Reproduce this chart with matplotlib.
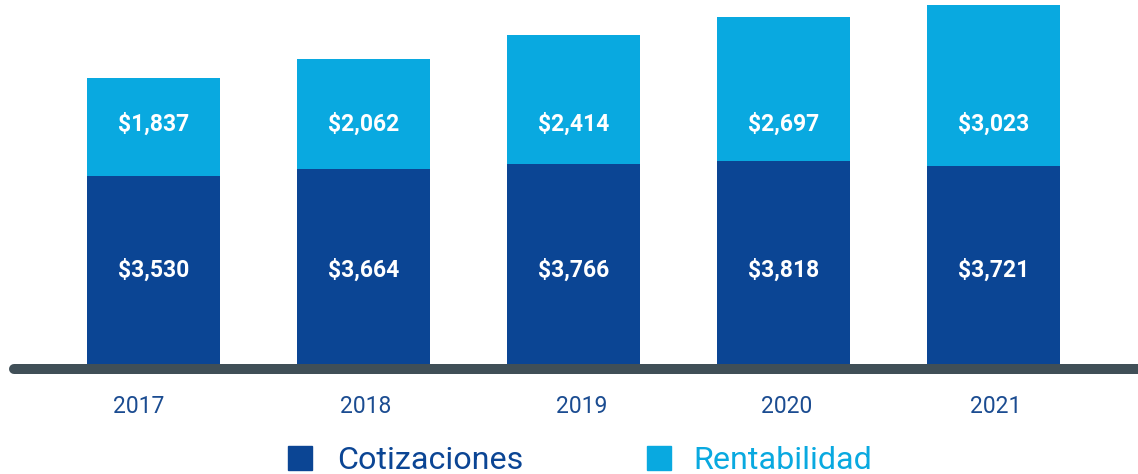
import matplotlib.pyplot as plt
from matplotlib.patches import Rectangle
from matplotlib.transforms import offset_copy

# data
years = ["2017", "2018", "2019", "2020", "2021"]
cotizaciones = [3530, 3664, 3766, 3818, 3721]
rentabilidad = [1837, 2062, 2414, 2697, 3023]
series_names = ["Cotizaciones", "Rentabilidad"]

DARK = "#0b4594"
LIGHT = "#09a9e0"
AXIS = "#404f57"
TEXT_DARK = "#1b4c91"

# the year labels in the original are not exactly centred under the bars (px)
year_nudge = [-14.5, 2.5, 8.5, 3.5, 2]

W, H = 1138, 474
fig = plt.figure(figsize=(W / 100, H / 100), dpi=100)
fig.patch.set_facecolor("white")

# axes: full width, bottom at bar baseline (y=364 px from top)
base_px = 364
ax = fig.add_axes([0, (H - base_px) / H, 1, base_px / H])
ax.set_xlim(-153.5 / 210, (W - 153.5) / 210)
ax.set_ylim(0, base_px / 0.0532)
ax.axis("off")

x = list(range(len(years)))
ax.bar(x, cotizaciones, width=0.633, color=DARK)
ax.bar(x, rentabilidad, width=0.633, bottom=cotizaciones, color=LIGHT)

xt = ax.get_xaxis_transform()
# value labels sit at fixed heights, like the original infographic
for i in x:
    ax.text(i, (base_px - 270) / base_px, f"${cotizaciones[i]:,}", transform=xt,
            ha="center", va="center", color="white", fontsize=16.5, fontweight="bold", family="Roboto")
    ax.text(i, (base_px - 124) / base_px, f"${rentabilidad[i]:,}", transform=xt,
            ha="center", va="center", color="white", fontsize=16.5, fontweight="bold", family="Roboto")
    tr = offset_copy(xt, fig=fig, x=year_nudge[i], y=0, units="dots")
    ax.text(i, -(413 - base_px) / base_px, years[i], transform=tr,
            ha="center", va="baseline", color=TEXT_DARK, fontsize=16.5, family="Roboto")

# rounded baseline bar
ax.plot([14 / W, 1.05], [-5 / base_px, -5 / base_px], transform=ax.transAxes, color=AXIS,
        lw=7.2, solid_capstyle="round", clip_on=False)

# legend
for name, col, sq_x, tx_x in [(series_names[0], DARK, 288, 337), (series_names[1], LIGHT, 647, 693)]:
    fig.patches.append(Rectangle((sq_x / W, (H - 470) / H), 24 / W, 24 / H,
                                 transform=fig.transFigure, color=col))
    fig.text(tx_x / W, (H - 469) / H, name, color=col, fontsize=23.2, family="Roboto", va="baseline", ha="left")

fig.savefig("out.png", dpi=100)
